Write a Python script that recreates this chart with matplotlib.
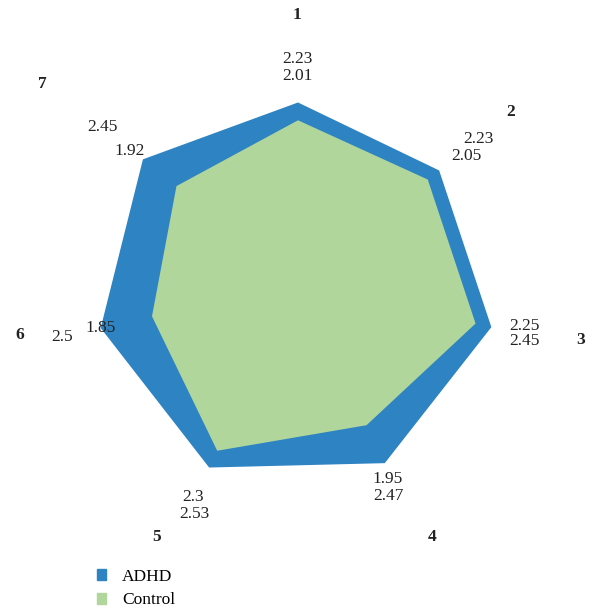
import numpy as np
import matplotlib.pyplot as plt
from matplotlib.patches import Patch

plt.rcParams['font.family'] = ['Liberation Serif', 'DejaVu Serif']

axes_names = ['1', '2', '3', '4', '5', '6', '7']
adhd = [2.23, 2.23, 2.45, 2.47, 2.53, 2.5, 2.45]
control = [2.01, 2.05, 2.25, 1.95, 2.3, 1.85, 1.92]

blue = '#2e83c2'
green = '#b0d69c'

W, H = 591, 609
fig = plt.figure(figsize=(W / 100, H / 100), dpi=100)

# polar axes centred at (298, 283) px, 81 px per unit
cx, cy, R, rmax = 298, 283, 340, 4.2
ax = fig.add_axes([(cx - R) / W, (H - cy - R) / H, 2 * R / W, 2 * R / H],
                  projection='polar')
ax.set_theta_zero_location('N')
ax.set_theta_direction(-1)
ax.set_ylim(0, rmax)
ax.axis('off')

theta = np.linspace(0, 2 * np.pi, len(axes_names), endpoint=False)
ax.fill(theta, adhd, color=blue, lw=0)
ax.fill(theta, control, color=green, lw=0)

# axis names (pixel positions)
name_pos = [(297, 15), (511, 112), (581, 340), (432, 537),
            (157, 537), (20, 335), (42, 84)]
for name, (x, y) in zip(axes_names, name_pos):
    fig.text(x / W, 1 - y / H, name, ha='center', va='center',
             fontsize=12.5, fontweight='bold', color='#222222')

# value labels (pixel positions of the text centres)
adhd_pos = [(297, 59), (478, 139), (524, 341), (388, 496),
            (194, 514), (62, 337), (102, 127)]
control_pos = [(297, 76), (466, 156), (524, 326), (388, 479),
               (193, 497), (101, 328), (130, 151)]
for vals, pos in ((adhd, adhd_pos), (control, control_pos)):
    for v, (x, y) in zip(vals, pos):
        fig.text(x / W, 1 - y / H, f'{v:g}', ha='center', va='center',
                 fontsize=12.5, color='#222222')

handles = [Patch(color=blue), Patch(color=green)]
fig.legend(handles, ['ADHD', 'Control'], loc='upper left',
           bbox_to_anchor=(88 / W, 1 - 560 / H), frameon=False,
           fontsize=12.5, handlelength=0.55, handleheight=0.55,
           handletextpad=0.9, labelspacing=0.45, borderpad=0)

fig.savefig('out.png', dpi=100)
